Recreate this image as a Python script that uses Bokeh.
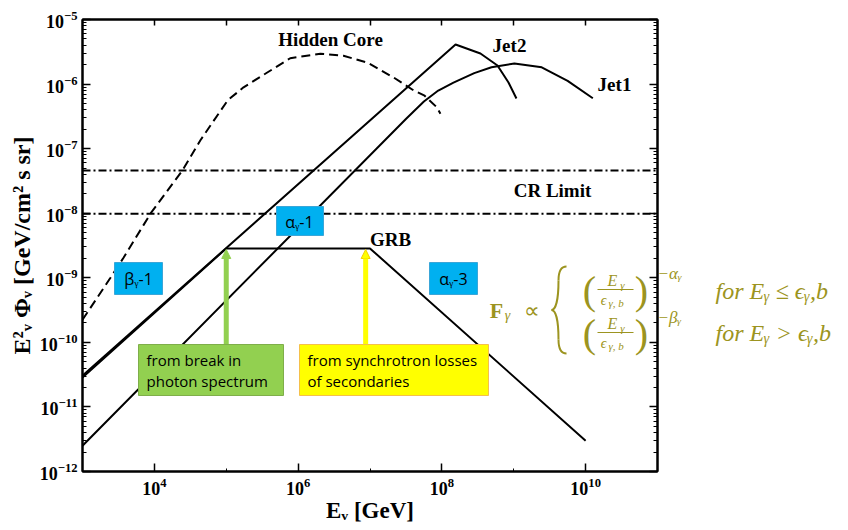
from bokeh.plotting import figure
from bokeh.models import (Range1d, FixedTicker, LogAxis, LinearAxis, LinearScale, Span, Label,
                          BoxAnnotation, Arrow, NormalHead)
from bokeh.embed import file_html
from bokeh.resources import INLINE

# ---------------- data ----------------
grb_e = [1e3, 1e5, 1e7, 1e10]
grb_f = [2.85e-11, 2.85e-9, 2.85e-9, 3.0e-12]

jet2_e = [1e3, 1.55e8, 3.44e8, 5.94e8, 8.45e8, 1.09e9]
jet2_f = [3.05e-11, 4.10e-6, 2.97e-6, 1.94e-6, 1.06e-6, 5.98e-7]

jet1_e = [1e3, 3.16e7, 5.62e7, 8.91e7, 1.45e8, 2.82e8, 4.90e8, 1.02e9, 2.45e9, 5.62e9, 1.26e10]
jet1_f = [2.51e-12, 2.88e-7, 5.37e-7, 7.94e-7, 1.05e-6, 1.48e-6, 1.82e-6, 2.09e-6, 1.82e-6, 1.12e-6, 6.03e-7]

core_e = [1e3, 2.45e3, 3.72e3, 8.91e3, 2.45e4, 4.37e4, 1.05e5, 1.74e5, 3.72e5, 7.76e5,
          2.04e6, 4.27e6, 9.33e6, 2.14e7, 4.07e7, 5.75e7, 8.51e7, 9.55e7]
core_f = [2.24e-10, 1.0e-9, 2.04e-9, 1.0e-8, 4.57e-8, 1.35e-7, 5.62e-7, 8.91e-7, 1.51e-6, 2.51e-6,
          2.95e-6, 2.75e-6, 2.14e-6, 1.26e-6, 7.94e-7, 6.61e-7, 4.37e-7, 3.47e-7]

cr_limits = [4.6e-8, 9.8e-9]

arrow_green_e = 1e5      # break in photon spectrum
arrow_yellow_e = 8.7e6   # synchrotron losses

x_major = [1e4, 1e6, 1e8, 1e10]
x_minor = [1e5, 1e7, 1e9]
x_top = [1e4, 1e5, 1e6, 1e7, 1e8, 1e9, 1e10]
y_major = [10.0 ** k for k in range(-12, -4)]
y_minor = [m * 10.0 ** k for k in range(-12, -5) for m in range(2, 10)]

x_title = "E\u1d65 [GeV]"
y_title = "E\u00b2\u1d65 \u03a6\u1d65 [GeV/cm\u00b2 s sr]"
formula_exponents = ["\u2212\u03b1\u1d67", "\u2212\u03b2\u1d67"]
formula_conditions = ["for E\u1d67 \u2264 \u03f5\u1d67,b", "for E\u1d67 > \u03f5\u1d67,b"]

# ---------------- layout (canvas px) ----------------
W, H = 848, 530
FL, FT, FW, FH = 82, 19, 575, 452


def dx(px):
    return 10 ** (3 + (px - FL) * 8 / FW)


def dy(py):
    return 10 ** (-5 - (py - FT) * 7 / FH)


SERIF = "Liberation Serif"
SANS = "Open Sans"
OL = "#9c9420"
BLUE = "#00b0f0"
GREEN = "#92d050"
YELLOW = "#ffff00"

p = figure(width=W, height=H, x_axis_type="log", y_axis_type="log",
           x_range=Range1d(1e3, 1e11), y_range=Range1d(1e-12, 1e-5),
           output_backend="svg", toolbar_location=None,
           min_border_left=FL, min_border_right=W - FL - FW,
           min_border_top=FT, min_border_bottom=H - FT - FH)
p.grid.visible = False
p.outline_line_color = "black"
p.outline_line_width = 2
p.background_fill_color = "white"
p.border_fill_color = "white"
# pixel-valued helper range for the formula texts set beside the frame
p.extra_y_ranges = {"px": Range1d(start=FT + FH, end=FT)}
p.extra_y_scales = {"px": LinearScale()}


def style_axis(ax, labels=True, tick_in=8, minor_in=4):
    ax.axis_line_width = 2
    ax.axis_line_color = "black"
    ax.major_tick_in = tick_in
    ax.major_tick_out = 0
    ax.minor_tick_in = minor_in
    ax.minor_tick_out = 0
    ax.major_tick_line_width = 1.5
    ax.minor_tick_line_width = 1
    ax.major_label_text_font = SERIF
    ax.major_label_text_font_style = "bold"
    ax.axis_label_text_font = SERIF
    ax.axis_label_text_font_style = "bold"
    ax.axis_label_text_color = "black"
    if labels:
        ax.major_label_text_color = "black"
        ax.major_label_text_font_size = "18px"
    else:
        ax.major_label_text_alpha = 0.0
        ax.major_label_text_font_size = "1px"
        ax.major_label_standoff = 0


xa = p.xaxis[0]
xa.ticker = FixedTicker(ticks=x_major, minor_ticks=x_minor)
style_axis(xa, True, 8, 3)
xa.major_label_standoff = 6
xa.axis_label = x_title
xa.axis_label_text_font_size = "23px"
xa.axis_label_standoff = 0

ya = p.yaxis[0]
ya.ticker = FixedTicker(ticks=y_major, minor_ticks=y_minor)
style_axis(ya, True, 8, 4)
ya.major_label_standoff = 5
ya.axis_label = y_title
ya.axis_label_text_font_size = "24px"
ya.axis_label_standoff = 2

top = LogAxis(ticker=FixedTicker(ticks=x_top, minor_ticks=[]))
style_axis(top, False, 6, 0)
p.add_layout(top, "above")
right = LogAxis(ticker=FixedTicker(ticks=y_major, minor_ticks=y_minor))
style_axis(right, False, 8, 4)
p.add_layout(right, "right")


def text_axis(ticks, texts, size, standoff, style="italic"):
    ax = LinearAxis(y_range_name="px", ticker=FixedTicker(ticks=ticks, minor_ticks=[]),
                    major_label_overrides={t: s for t, s in zip(ticks, texts)})
    ax.axis_line_color = None
    ax.major_tick_line_color = None
    ax.minor_tick_line_color = None
    ax.major_tick_in = 0
    ax.major_tick_out = 0
    ax.major_label_standoff = standoff
    ax.major_label_text_font = SERIF
    ax.major_label_text_font_style = style
    ax.major_label_text_font_size = f"{size}px"
    ax.major_label_text_color = OL
    p.add_layout(ax, "right")


text_axis([273, 317], formula_exponents, 17, 0)
text_axis([290, 332], formula_conditions, 24, 31)

# ---------------- curves ----------------
for lvl in cr_limits:
    p.add_layout(Span(location=lvl, dimension="width", line_color="black",
                      line_width=2, line_dash="8 3 2 3"))

p.line(core_e, core_f, line_color="black", line_width=2, line_dash="9 5")
p.line(grb_e, grb_f, line_color="black", line_width=2)
p.line(jet2_e, jet2_f, line_color="black", line_width=2)
p.line(jet1_e, jet1_f, line_color="black", line_width=2)


def lab(text, px, py, size, font=SERIF, style="normal", color="black",
        align="center", baseline="middle"):
    # screen units are relative to the frame's bottom-left corner
    p.add_layout(Label(x=px - FL, y=(FT + FH) - py, x_units="screen", y_units="screen",
                       text=text, text_font=font,
                       text_font_style=style, text_font_size=f"{size}px",
                       text_color=color, text_align=align, text_baseline=baseline))


# curve labels
lab("Hidden Core", 330, 39, 19, style="bold")
lab("Jet2", 509, 45, 19, style="bold")
lab("Jet1", 614, 84, 19, style="bold")
lab("CR Limit", 552, 190, 19, style="bold")
lab("GRB", 390, 239, 19, style="bold")

# ---------------- arrows ----------------
p.add_layout(Arrow(end=NormalHead(size=9, fill_color=GREEN, line_color=GREEN, line_width=1),
                   x_start=arrow_green_e, y_start=dy(344), x_end=arrow_green_e, y_end=dy(249),
                   line_color=GREEN, line_width=5))
p.add_layout(Arrow(end=NormalHead(size=9, fill_color=YELLOW, line_color="#f2d000", line_width=1),
                   x_start=arrow_yellow_e, y_start=dy(344), x_end=arrow_yellow_e, y_end=dy(249),
                   line_color=YELLOW, line_width=5))


# ---------------- boxes ----------------
def box(l, t, r, b, fill, line):
    p.add_layout(BoxAnnotation(left=dx(l), right=dx(r), top=dy(t), bottom=dy(b),
                               fill_color=fill, fill_alpha=1.0, line_color=line,
                               line_width=1, line_alpha=1.0))


box(276, 206, 323, 235, BLUE, "#3aa6d8")
box(114, 262, 162, 294, BLUE, "#3aa6d8")
box(429, 262, 477, 294, BLUE, "#3aa6d8")
box(138, 344, 283, 395, GREEN, "#7fae4a")
box(299, 344, 488, 395, YELLOW, "#f5c04a")

lab("\u03b1\u1d67-1", 299, 221, 16, font=SANS)
lab("\u03b2\u1d67-1", 138, 278, 16, font=SANS)
lab("\u03b1\u1d67-3", 453, 278, 16, font=SANS)
lab("from break in", 146, 359, 15, font=SANS, align="left")
lab("photon spectrum", 146, 380, 15, font=SANS, align="left")
lab("from synchrotron losses", 307, 359, 15, font=SANS, align="left")
lab("of secondaries", 307, 380, 15, font=SANS, align="left")

# ---------------- formula (inside frame part) ----------------
lab("F", 496, 310, 22, style="bold", color=OL)
lab("\u03b3", 507, 315, 14, style="italic", color=OL)
lab("\u221d", 531, 310, 22, color=OL)

# brace
bx0 = [dx(566), dx(558), dx(551), dx(558)]
by0 = [dy(266), dy(280), dy(309.5), dy(339)]
bx1 = [dx(558), dx(551), dx(558), dx(566)]
by1 = [dy(280), dy(309.5), dy(339), dy(353)]
cx0 = [dx(560), dx(558), dx(555), dx(558)]
cy0 = [dy(266), dy(300), dy(309.5), dy(347)]
cx1 = [dx(558), dx(555), dx(558), dx(560)]
cy1 = [dy(272), dy(309.5), dy(319), dy(353)]
p.bezier(x0=bx0, y0=by0, x1=bx1, y1=by1, cx0=cx0, cy0=cy0, cx1=cx1, cy1=cy1,
         line_color=OL, line_width=2)

for yc in (290, 333):
    lab("(", 589, yc, 40, color=OL)
    lab(")", 641, yc, 40, color=OL)
    lab("E", 612, yc - 10, 16, style="italic", color=OL)
    lab("\u03b3", 622, yc - 6, 11, style="italic", color=OL)
    lab("\u03f5", 603, yc + 10, 14, style="italic", color=OL)
    lab("\u03b3, b", 608, yc + 12, 11, style="italic", color=OL, align="left")

p.segment(x0=[dx(597), dx(597)], y0=[dy(289), dy(332)],
          x1=[dx(633), dx(633)], y1=[dy(289), dy(332)],
          line_color=OL, line_width=1.2)

open("out.html", "w").write(file_html(p, INLINE))
